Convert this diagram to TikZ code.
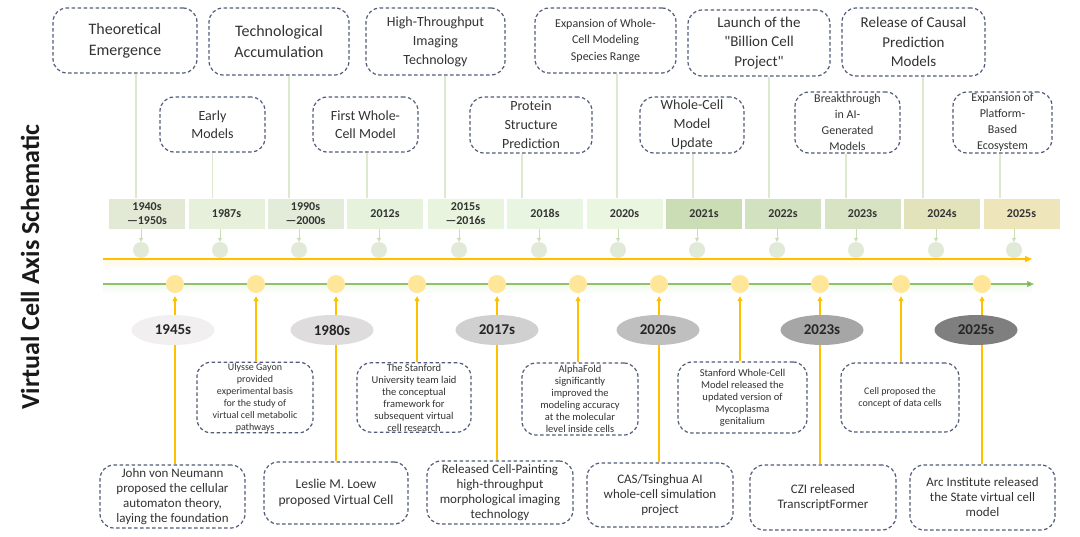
\documentclass[tikz,border=0pt]{standalone}
\usepackage{fontspec}
\setmainfont{Carlito}
\usetikzlibrary{arrows.meta,shapes.geometric}
\definecolor{dashc}{HTML}{525C7A}
\definecolor{txt}{HTML}{333333}
\definecolor{stemc}{HTML}{DCE9CF}
\definecolor{tcirc}{HTML}{E1E9D7}
\definecolor{gcirc}{HTML}{FFE699}
\definecolor{orng}{HTML}{FFC000}
\definecolor{grn}{HTML}{8DC46A}
\definecolor{grnd}{HTML}{70AD47}
\definecolor{tarrc}{HTML}{C9DDB6}
\definecolor{yc1}{HTML}{E2EAD6}
\definecolor{yc2}{HTML}{E6F0DA}
\definecolor{yc3}{HTML}{E3ECD8}
\definecolor{yc4}{HTML}{E6F2DC}
\definecolor{yc5}{HTML}{E8F4DE}
\definecolor{yc6}{HTML}{E8F5E0}
\definecolor{yc7}{HTML}{EAF6E0}
\definecolor{yc8}{HTML}{CADDB5}
\definecolor{yc9}{HTML}{D2E1BF}
\definecolor{yc10}{HTML}{D7E3C2}
\definecolor{yc11}{HTML}{E2E3BB}
\definecolor{yc12}{HTML}{EEE5BA}
\definecolor{ec1}{HTML}{F2EFF0}
\definecolor{ec2}{HTML}{DEDCDC}
\definecolor{ec3}{HTML}{D0D0D0}
\definecolor{ec4}{HTML}{BFBFBF}
\definecolor{ec5}{HTML}{A6A6A6}
\definecolor{ec6}{HTML}{7F7F7F}
\newcommand{\fs}[2]{\fontsize{#1}{#2}\selectfont}
\tikzset{
  dbox/.style={draw=dashc, dash pattern=on 3.5pt off 2.5pt, line width=1.2pt, rounded corners=14pt,
    align=center, inner sep=1pt, text=txt},
  yrbox/.style={minimum width=76pt, minimum height=30pt, inner sep=0pt, align=center,
    font=\fs{12}{14}\bfseries, text=txt},
  tc/.style={circle, fill=tcirc, minimum size=16pt, inner sep=0pt},
  gc/.style={circle, fill=gcirc, minimum size=18pt, inner sep=0pt},
  yl/.style={ellipse, minimum width=83pt, minimum height=30pt, inner sep=0pt, font=\fs{15}{17}\bfseries, text=black!85},
  stem/.style={draw=stemc, line width=1.2pt},
  tarr/.style={draw=tarrc, line width=1pt, -{Triangle[length=4pt,width=4pt]}},
  oarr/.style={draw=orng, line width=1.2pt, -{Triangle[length=5pt,width=5pt]}, shorten >=3pt},
}
\begin{document}
\begin{tikzpicture}[x=1pt,y=-1pt]
\useasboundingbox (0,0) rectangle (1080,536);
\fill[white] (0,0) rectangle (1080,536);

% title
\node[rotate=90, font=\fs{26}{30}\bfseries, text=black!90] (title) at (30,267) {Virtual Cell Axis Schematic};

% top phase boxes
\node[dbox, minimum width=144pt, minimum height=65pt, font=\fs{16}{21}] (ph1) at (125,40.5) {Theoretical\\Emergence};
\node[dbox, minimum width=140pt, minimum height=67pt, font=\fs{16}{21}] (ph2) at (279,41.5) {Technological\\Accumulation};
\node[dbox, minimum width=139pt, minimum height=67pt, font=\fs{14}{19}] (ph3) at (435.5,41.5) {High-Throughput\\Imaging\\Technology};
\node[dbox, minimum width=141pt, minimum height=65pt, font=\fs{12}{16.5}] (ph4) at (605.5,40.5) {Expansion of Whole-\\Cell Modeling\\Species Range};
\node[dbox, minimum width=142pt, minimum height=66pt, font=\fs{15}{19.5}] (ph5) at (759,43) {Launch of the\\\textquotedbl Billion Cell\\Project\textquotedbl};
\node[dbox, minimum width=143pt, minimum height=68pt, font=\fs{15}{19.5}] (ph6) at (913.5,42) {Release of Causal\\Prediction\\Models};

% second row boxes
\node[dbox, minimum width=105pt, minimum height=55pt, font=\fs{14}{18}] (q1) at (212.5,124.5) {Early\\Models};
\node[dbox, minimum width=105pt, minimum height=55pt, font=\fs{14}{18}] (q2) at (365.5,124.5) {First Whole-\\Cell Model};
\node[dbox, minimum width=122pt, minimum height=56pt, font=\fs{14}{19}] (q3) at (531,125) {Protein\\Structure\\Prediction};
\node[dbox, minimum width=104pt, minimum height=56pt, font=\fs{14}{19}] (q4) at (692,125) {Whole-Cell\\Model\\Update};
\node[dbox, minimum width=105pt, minimum height=61pt, font=\fs{12}{16}] (q5) at (847.5,122.5) {Breakthrough\\in AI-\\Generated\\Models};
\node[dbox, minimum width=99pt, minimum height=61pt, font=\fs{12}{16}] (q6) at (1002.5,122.5) {Expansion of\\Platform-\\Based\\Ecosystem};

% year boxes
\node[yrbox, fill=yc1] (y1) at (147,213.5) {1940s\\—1950s};
\node[yrbox, fill=yc2] (y2) at (226.5,213.5) {1987s};
\node[yrbox, fill=yc3] (y3) at (305.5,213.5) {1990s\\—2000s};
\node[yrbox, fill=yc4] (y4) at (385,213.5) {2012s};
\node[yrbox, fill=yc5] (y5) at (465.5,213.5) {2015s\\—2016s};
\node[yrbox, fill=yc6] (y6) at (545,213.5) {2018s};
\node[yrbox, fill=yc7] (y7) at (624.5,213.5) {2020s};
\node[yrbox, fill=yc8] (y8) at (704,213.5) {2021s};
\node[yrbox, fill=yc9] (y9) at (783,213.5) {2022s};
\node[yrbox, fill=yc10] (y10) at (862.5,213.5) {2023s};
\node[yrbox, fill=yc11] (y11) at (942,213.5) {2024s};
\node[yrbox, fill=yc12] (y12) at (1021.5,213.5) {2025s};

% stems
\draw[stem] ([xshift=11pt]ph1.south) -- ([xshift=11pt]ph1.south |- y1.north);
\draw[stem] (q1.south) -- (q1.south |- y2.north);
\draw[stem] ([xshift=10pt]ph2.south) -- ([xshift=10pt]ph2.south |- y3.north);
\draw[stem] ([xshift=1.5pt]q2.south) -- ([xshift=1.5pt]q2.south |- y4.north);
\draw[stem] ([xshift=9.5pt]ph3.south) -- ([xshift=9.5pt]ph3.south |- y5.north);
\draw[stem] ([xshift=-9pt]q3.south) -- ([xshift=-9pt]q3.south |- y6.north);
\draw[stem] ([xshift=11.5pt]ph4.south) -- ([xshift=11.5pt]ph4.south |- y7.north);
\draw[stem] ([xshift=1pt]q4.south) -- ([xshift=1pt]q4.south |- y8.north);
\draw[stem] ([xshift=10pt]ph5.south) -- ([xshift=10pt]ph5.south |- y9.north);
\draw[stem] ([xshift=-1.5pt]q5.south) -- ([xshift=-1.5pt]q5.south |- y10.north);
\draw[stem] ([xshift=9.5pt]ph6.south) -- ([xshift=9.5pt]ph6.south |- y11.north);
\draw[stem] ([xshift=-2.5pt]q6.south) -- ([xshift=-2.5pt]q6.south |- y12.north);

% top circles and small arrows
\foreach \i/\x in {1/141,2/220,3/299,4/379,5/459,6/539,7/618,8/697,9/777,10/856,11/936,12/1014}{
  \node[tc] (t\i) at (\x,250) {};
  \draw[tarr] (y\i.south -| t\i) -- (t\i.north);
}

% axis lines with soft shadows
\shade[top color=orng!10, bottom color=white] (103,260) rectangle (1030,270);
\shade[top color=grn!10, bottom color=white] (103,285) rectangle (1032,294);
\coordinate (oa0) at (103,259);
\coordinate (oa1) at (1032,259);
\coordinate (ga0) at (103,284);
\coordinate (ga1) at (1034,284);
\draw[orng, line width=1.2pt, -{Triangle[length=7pt,width=6pt]}] (oa0) -- (oa1);
\draw[grn, line width=1.2pt, -{Triangle[length=7pt,width=6pt,fill=grnd]}] (ga0) -- (ga1);

% green-line circles
\foreach \i/\x in {1/175,2/256,3/336,4/417,5/497,6/578,7/659,8/740,9/820,10/901,11/982}{
  \node[gc] (g\i) at (\x,284) {};
}

% lower upper-row boxes
\node[dbox, minimum width=116pt, minimum height=69pt, font=\fs{10}{12}] (u1) at (255,397.5) {Ulysse Gayon\\provided\\experimental basis\\for the study of\\virtual cell metabolic\\pathways};
\node[dbox, minimum width=114pt, minimum height=69pt, font=\fs{10.5}{12}] (u2) at (414,397.5) {The Stanford\\University team laid\\the conceptual\\framework for\\subsequent virtual\\cell research};
\node[dbox, minimum width=116pt, minimum height=72pt, font=\fs{10.5}{12}] (u3) at (580,399) {AlphaFold\\significantly\\improved the\\modeling accuracy\\at the molecular\\level inside cells};
\node[dbox, minimum width=129pt, minimum height=71pt, font=\fs{10.5}{12}] (u4) at (742.5,397.5) {Stanford Whole-Cell\\Model released the\\updated version of\\Mycoplasma\\genitalium};
\node[dbox, minimum width=118pt, minimum height=69pt, font=\fs{10}{12}] (u5) at (900,397.5) {Cell proposed the\\concept of data cells};

% bottom row boxes
\node[dbox, minimum width=145pt, minimum height=63pt, font=\fs{13}{15}] (b1) at (172.5,496.5) {John von Neumann\\proposed the cellular\\automaton theory,\\laying the foundation};
\node[dbox, minimum width=144pt, minimum height=62pt, font=\fs{13.5}{15.5}] (b2) at (336,493) {Leslie M. Loew\\proposed Virtual Cell};
\node[dbox, minimum width=146pt, minimum height=63pt, font=\fs{13}{15}] (b3) at (500,492.5) {Released Cell-Painting\\high-throughput\\morphological imaging\\technology};
\node[dbox, minimum width=146pt, minimum height=64pt, font=\fs{13}{15}] (b4) at (660,495) {CAS/Tsinghua AI\\whole-cell simulation\\project};
\node[dbox, minimum width=146pt, minimum height=65pt, font=\fs{13}{15.5}] (b5) at (823,497.5) {CZI released\\TranscriptFormer};
\node[dbox, minimum width=145pt, minimum height=65pt, font=\fs{13}{15}] (b6) at (982.5,497.5) {Arc Institute released\\the State virtual cell\\model};

% orange arrows
\draw[oarr] (b1.north -| g1) -- (g1.south);
\draw[oarr] (u1.north -| g2) -- (g2.south);
\draw[oarr] (b2.north -| g3) -- (g3.south);
\draw[oarr] (u2.north -| g4) -- (g4.south);
\draw[oarr] (b3.north -| g5) -- (g5.south);
\draw[oarr] (u3.north -| g6) -- (g6.south);
\draw[oarr] (b4.north -| g7) -- (g7.south);
\draw[oarr] (u4.north -| g8) -- (g8.south);
\draw[oarr] (b5.north -| g9) -- (g9.south);
\draw[oarr] (u5.north -| g10) -- (g10.south);
\draw[oarr] (b6.north -| g11) -- (g11.south);

% year ellipses
\node[yl, fill=ec1] (e1) at (173,330) {1945s};
\node[yl, fill=ec2] (e2) at (332,330) {1980s};
\node[yl, fill=ec3] (e3) at (497,330) {2017s};
\node[yl, fill=ec4] (e4) at (658,330) {2020s};
\node[yl, fill=ec5] (e5) at (822,330) {2023s};
\node[yl, fill=ec6] (e6) at (976,330) {2025s};
\end{tikzpicture}
\end{document}
